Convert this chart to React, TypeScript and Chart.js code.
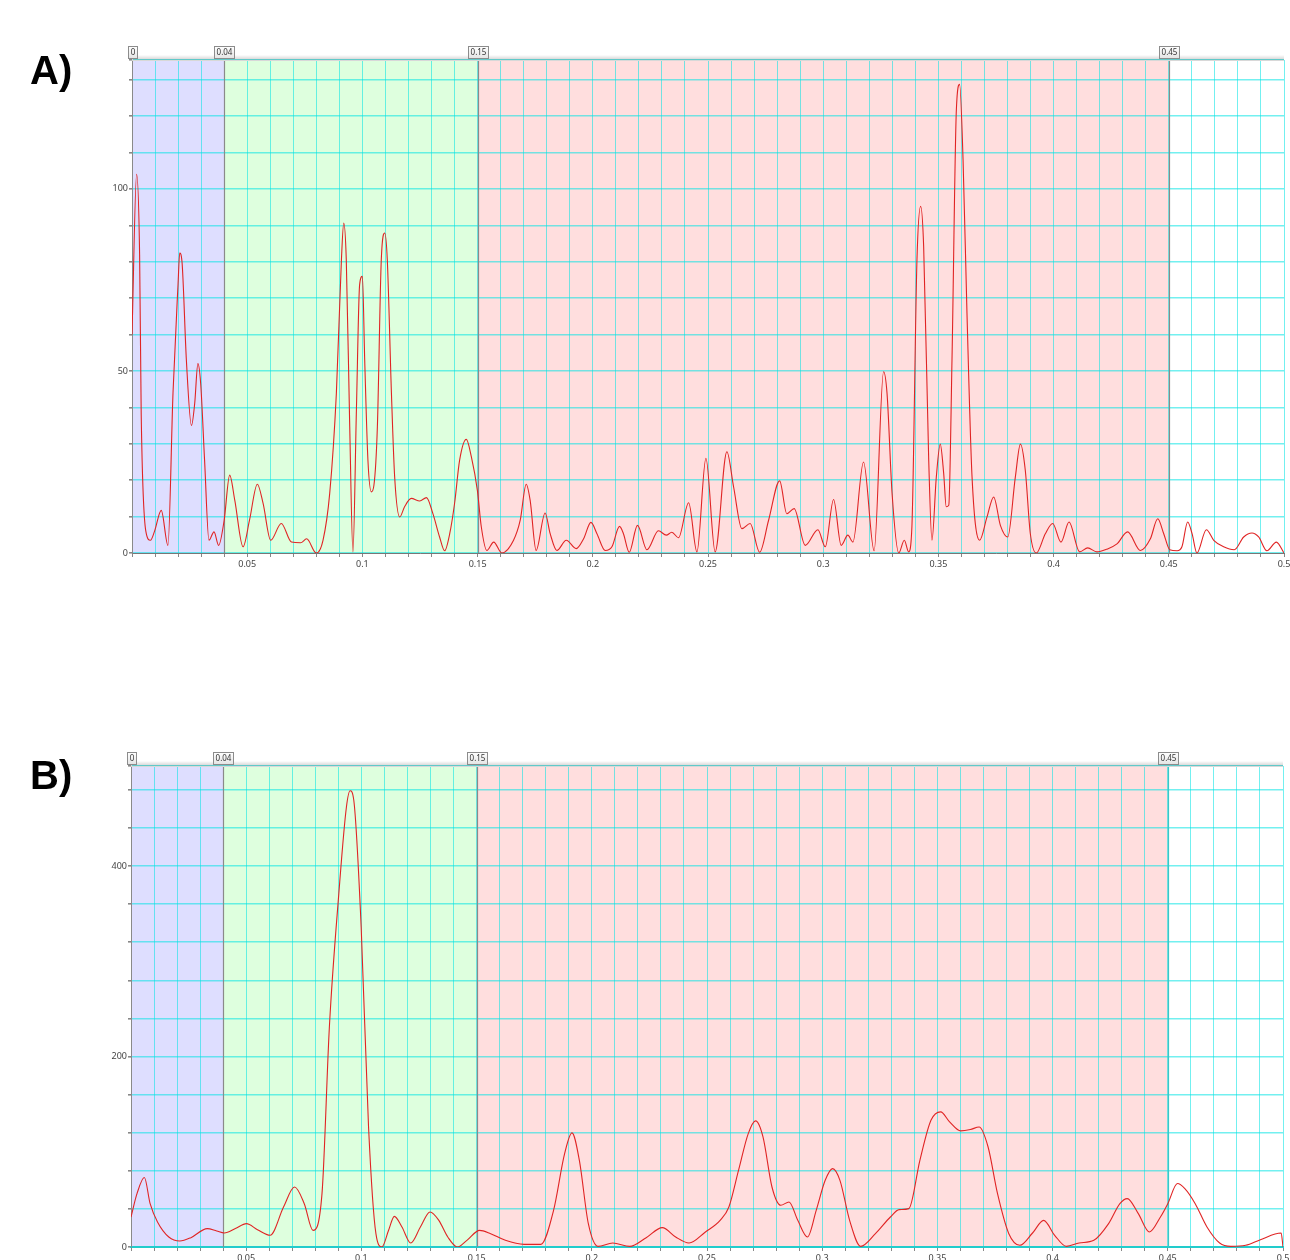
import React, { useEffect, useRef } from 'react';
import { Chart, registerables } from 'chart.js';

Chart.register(...registerables);

// ---------- Panel A data (frequency, power) ----------
const aFreq = [
  0.0, 0.002, 0.0033, 0.004, 0.006, 0.008, 0.0098, 0.0127, 0.0156, 0.0178,
  0.02, 0.0207, 0.0217, 0.0236, 0.0258, 0.0272, 0.0286, 0.0298, 0.0315, 0.0334,
  0.0356, 0.0376, 0.04, 0.0424, 0.0446, 0.0482, 0.051, 0.0544, 0.0569, 0.0602,
  0.0648, 0.0692, 0.0732, 0.0758, 0.08, 0.0829, 0.0858, 0.0887, 0.0909, 0.0919,
  0.093, 0.0945, 0.0959, 0.0974, 0.0988, 0.1, 0.101, 0.1024, 0.1039, 0.105,
  0.1065, 0.1082, 0.1097, 0.1108, 0.1126, 0.114, 0.1162, 0.1183, 0.1212, 0.1249,
  0.1278, 0.1306, 0.1335, 0.1357, 0.1379, 0.14, 0.1422, 0.1451, 0.1473, 0.1499,
  0.1516, 0.154, 0.157, 0.1605, 0.1656, 0.1685, 0.1711, 0.1728, 0.1754, 0.1793,
  0.1815, 0.1844, 0.1885, 0.1928, 0.196, 0.1992, 0.2018, 0.2054, 0.2083, 0.2116,
  0.2133, 0.2158, 0.2194, 0.2235, 0.2285, 0.2319, 0.2343, 0.2372, 0.2416, 0.2452,
  0.2491, 0.2531, 0.2582, 0.2611, 0.2647, 0.2683, 0.2724, 0.2763, 0.2811, 0.2842,
  0.2874, 0.2922, 0.2977, 0.3009, 0.3045, 0.3078, 0.3107, 0.3129, 0.3175, 0.3221,
  0.3262, 0.3277, 0.3299, 0.3328, 0.3352, 0.3371, 0.3385, 0.3407, 0.3423, 0.3436,
  0.3458, 0.3472, 0.3491, 0.3508, 0.3523, 0.3534, 0.3545, 0.3559, 0.3578, 0.3592,
  0.3607, 0.3624, 0.3646, 0.3679, 0.3711, 0.374, 0.3769, 0.3801, 0.3834, 0.3856,
  0.3877, 0.3899, 0.3925, 0.3964, 0.3996, 0.4032, 0.4067, 0.4113, 0.4148, 0.4188,
  0.4229, 0.4275, 0.4321, 0.4377, 0.442, 0.4452, 0.4478, 0.4504, 0.4536, 0.4557,
  0.4582, 0.4601, 0.4622, 0.4663, 0.4695, 0.4738, 0.4784, 0.4825, 0.4861, 0.489,
  0.4926, 0.4967, 0.5,
];
const aPower = [
  60, 104, 82, 38, 6, 3.5, 6, 11.7, 2.1, 44,
  74, 82.4, 80, 53, 35, 41, 52, 46.6, 25.5, 3.5,
  5.8, 2.1, 9, 21.4, 14.5, 1.7, 9, 18.9, 13.6, 3.5,
  8.1, 3, 2.8, 3.9, 0, 3.5, 16.3, 43.9, 80.6, 90.6,
  80.6, 34.7, 0.3, 39.3, 73.7, 76, 53, 25.5, 16.8, 18.6,
  34.7, 80.6, 87.9, 80.6, 43.9, 20.9, 9.9, 12.7, 15, 14.3,
  15.2, 10.8, 4.4, 0.6, 5.3, 13.6, 25.5, 31.2, 26.4, 17.2,
  7.2, 0.7, 3, 0, 3.5, 9, 18.9, 14.5, 0.7, 11,
  5.3, 0.7, 3.5, 1.2, 3.9, 8.4, 5.3, 0.7, 1.7, 7.3,
  5.3, 0.2, 7.6, 0.9, 6.1, 4.9, 5.7, 4.2, 13.8, 0.3,
  26, 0.3, 27.8, 18.2, 6.7, 8.1, 0.2, 9, 19.8, 10.8,
  12.2, 2.1, 6.4, 1.7, 14.7, 2.1, 4.9, 3, 25, 0.6,
  49.8, 43.9, 16.3, 0, 3.5, 0.3, 7.2, 80.6, 95.2, 84.2,
  25.5, 3.5, 20.9, 29.9, 21.8, 12.7, 13.1, 53, 121.8, 128.7,
  108, 65.9, 20.9, 3.5, 9.9, 15.4, 7.6, 4.4, 20.9, 29.9,
  22.8, 5.3, 0, 5.3, 8.1, 3, 8.5, 0.3, 1.4, 0.3,
  1, 2.5, 5.8, 0.7, 3.9, 9.4, 5.3, 0.9, 0.6, 1.7,
  8.5, 5.3, 0, 6.4, 3.5, 1.7, 0.9, 4.4, 5.5, 4.4,
  0.6, 3, 0,
];

// ---------- Panel B data (frequency, power) ----------
const bFreq = [
  0.0, 0.0026, 0.0058, 0.0083, 0.0115, 0.0164, 0.0212, 0.026, 0.0331, 0.0372,
  0.0405, 0.0453, 0.0501, 0.0549, 0.0604, 0.0662, 0.071, 0.0752, 0.079, 0.0829,
  0.0861, 0.0902, 0.0935, 0.0951, 0.0967, 0.0999, 0.1031, 0.1063, 0.1089, 0.1118,
  0.1143, 0.1176, 0.1214, 0.1256, 0.1298, 0.1336, 0.1375, 0.1417, 0.1458, 0.1513,
  0.1561, 0.1625, 0.1706, 0.1779, 0.1834, 0.1882, 0.1914, 0.1946, 0.1985, 0.2027,
  0.2091, 0.2165, 0.2236, 0.2306, 0.2364, 0.2422, 0.2493, 0.2557, 0.2595, 0.2637,
  0.2679, 0.2711, 0.2743, 0.2782, 0.282, 0.2856, 0.2894, 0.2936, 0.2974, 0.3013,
  0.3045, 0.3077, 0.3119, 0.3167, 0.3231, 0.3296, 0.3334, 0.3376, 0.3424, 0.3472,
  0.3514, 0.3553, 0.3601, 0.3643, 0.3681, 0.372, 0.3761, 0.381, 0.3858, 0.3913,
  0.3961, 0.4009, 0.406, 0.4115, 0.4179, 0.4243, 0.4292, 0.4324, 0.4372, 0.442,
  0.4468, 0.45, 0.4542, 0.4574, 0.4619, 0.467, 0.4725, 0.4773, 0.4838, 0.4902,
  0.4992, 0.5,
];
const bPower = [
  31.5, 56, 72.9, 45.5, 26.3, 10.5, 6.3, 9.8, 19.3, 16.8,
  14.7, 19.3, 24.5, 18.2, 12.3, 42, 63, 45.5, 17.5, 56,
  231, 371, 462, 479, 469, 336, 126, 14, 0, 17.5,
  32.2, 21, 4.2, 21, 36.8, 28, 10.5, 0, 7, 17.5,
  14, 7, 2.8, 2.8, 38.5, 98, 119.8, 91, 24.5, 0.7,
  4.2, 0.7, 9.8, 20.3, 10.5, 4.2, 15.8, 28, 42, 80.6,
  119, 132.4, 115.6, 63, 43.8, 47.3, 28, 10.5, 38.5, 70,
  82.3, 70, 28, 0.7, 14, 31.5, 39.2, 40.3, 91, 133,
  141.9, 131.4, 121.9, 123.3, 126, 105, 56, 14, 1.8, 14.7,
  28, 12.3, 0.7, 4.2, 7, 24.5, 45.5, 50.8, 35, 15.8,
  31.5, 45.5, 66.6, 61.3, 45.5, 21, 4.2, 0.7, 1.8, 7.7,
  14.7, 0,
];

// ---------- Bands ----------
const bandEdges = [0, 0.04, 0.15, 0.45];
const bandLabels = ['0', '0.04', '0.15', '0.45'];
const bandColors = ['#DEDEFF', '#DEFFDE', '#FFDEDE'];

const GRID = 'rgba(0,228,228,0.55)';
const FONT = "'Noto Sans', 'DejaVu Sans', sans-serif";

type PanelProps = {
  freq: number[];
  power: number[];
  yMax: number;
  yStep: number;
  yLabelStep: number;
  top: number;
  height: number;
  padTop: number;
  xAxisH: number;
  yAxisW: number;
  padRight: number;
  lastEdgeColor: string;
  xBorderColor: string;
  xBorderWidth: number;
};

function makeBandPlugin(lastEdgeColor: string) {
  return {
    id: 'bands',
    beforeDraw(chart: any) {
      const { ctx, chartArea } = chart;
      const { top, bottom, left, right } = chartArea;
      const x = chart.scales.x;
      ctx.save();
      ctx.fillStyle = '#ffffff';
      ctx.fillRect(left, top, right - left, bottom - top);
      for (let i = 0; i < bandColors.length; i++) {
        const x0 = x.getPixelForValue(bandEdges[i]);
        const x1 = x.getPixelForValue(bandEdges[i + 1]);
        ctx.fillStyle = bandColors[i];
        ctx.fillRect(x0, top, x1 - x0, bottom - top);
      }
      ctx.restore();
    },
    beforeDatasetsDraw(chart: any) {
      const { ctx, chartArea } = chart;
      const { top, bottom } = chartArea;
      const x = chart.scales.x;
      ctx.save();
      for (let i = 1; i < bandEdges.length; i++) {
        const px = Math.round(x.getPixelForValue(bandEdges[i])) + 0.5;
        ctx.strokeStyle = i === bandEdges.length - 1 ? lastEdgeColor : '#8a8a8a';
        ctx.lineWidth = 1.2;
        ctx.beginPath();
        ctx.moveTo(px, top);
        ctx.lineTo(px, bottom);
        ctx.stroke();
      }
      // left border
      const lx = Math.round(chartArea.left) + 0.5;
      ctx.strokeStyle = '#8a8a8a';
      ctx.lineWidth = 1;
      ctx.beginPath();
      ctx.moveTo(lx, top);
      ctx.lineTo(lx, bottom);
      ctx.stroke();
      ctx.restore();
    },
    afterDraw(chart: any) {
      const { ctx, chartArea } = chart;
      const { top, left, right } = chartArea;
      const x = chart.scales.x;
      ctx.save();
      // top shadow
      const g = ctx.createLinearGradient(0, top - 5, 0, top);
      g.addColorStop(0, 'rgba(0,0,0,0)');
      g.addColorStop(1, 'rgba(0,0,0,0.18)');
      ctx.fillStyle = g;
      ctx.fillRect(left, top - 5, right - left, 5);
      ctx.fillStyle = '#d8d8d8';
      ctx.fillRect(left, top, right - left, 1);
      // label boxes
      ctx.font = `8px ${FONT}`;
      ctx.textBaseline = 'middle';
      ctx.textAlign = 'center';
      for (let i = 0; i < bandEdges.length; i++) {
        const px = x.getPixelForValue(bandEdges[i]);
        const tw = ctx.measureText(bandLabels[i]).width;
        const w = Math.ceil(tw) + 4;
        const h = 12;
        const bx = Math.round(px - w / 2) + 0.5;
        const by = Math.round(top - h - 2) + 0.5;
        const gg = ctx.createLinearGradient(0, by, 0, by + h);
        gg.addColorStop(0, '#ffffff');
        gg.addColorStop(1, '#e4e4e4');
        ctx.fillStyle = gg;
        ctx.fillRect(bx, by, w, h);
        ctx.strokeStyle = '#8c8c8c';
        ctx.lineWidth = 1;
        ctx.strokeRect(bx, by, w, h);
        ctx.fillStyle = '#333333';
        ctx.fillText(bandLabels[i], bx + w / 2, by + h / 2 + 0.5);
      }
      ctx.restore();
    },
  };
}

function Panel(p: PanelProps) {
  const ref = useRef<HTMLCanvasElement | null>(null);
  useEffect(() => {
    if (!ref.current) return;
    const data = p.freq.map((f, i) => ({ x: f, y: p.power[i] }));
    const chart = new Chart(ref.current, {
      type: 'line',
      data: {
        datasets: [
          {
            data,
            borderColor: '#e02424',
            borderWidth: 1.1,
            pointRadius: 0,
            fill: false,
            cubicInterpolationMode: 'monotone',
          },
        ],
      },
      options: {
        responsive: true,
        maintainAspectRatio: false,
        animation: false,
        parsing: true,
        layout: { padding: { top: p.padTop, right: p.padRight, left: 0, bottom: 0 } },
        plugins: { legend: { display: false }, tooltip: { enabled: false } },
        scales: {
          x: {
            type: 'linear',
            min: 0,
            max: 0.5,
            afterFit: (s: any) => {
              s.height = p.xAxisH;
              s.paddingLeft = 0;
              s.paddingRight = 0;
            },
            ticks: {
              stepSize: 0.01,
              autoSkip: false,
              maxRotation: 0,
              padding: 2,
              color: '#444',
              font: { size: 9, family: FONT },
              callback: (v: any) => {
                const n = Math.round(Number(v) * 100);
                if (n === 0 || n % 5 !== 0) return '';
                return String(n / 100);
              },
            },
            grid: {
              color: GRID,
              lineWidth: 1,
              tickColor: '#888',
              tickLength: 4,
            },
            border: { color: p.xBorderColor, width: p.xBorderWidth },
          },
          y: {
            type: 'linear',
            min: 0,
            max: p.yMax,
            afterFit: (s: any) => {
              s.width = p.yAxisW;
              s.paddingTop = 0;
              s.paddingBottom = 0;
            },
            ticks: {
              stepSize: p.yStep,
              autoSkip: false,
              padding: 1,
              color: '#444',
              font: { size: 9, family: FONT },
              callback: (v: any) => {
                const n = Math.round(Number(v));
                if (Math.abs(Number(v) - n) > 1e-6) return '';
                if (n % p.yLabelStep !== 0) return '';
                return String(n);
              },
            },
            grid: {
              color: GRID,
              lineWidth: 1.6,
              tickColor: '#888',
              tickLength: 3,
            },
            border: { color: '#8a8a8a', width: 1 },
          },
        },
      },
      plugins: [makeBandPlugin(p.lastEdgeColor)],
    } as any);
    return () => chart.destroy();
  }, []);
  return (
    <div
      style={{
        position: 'absolute',
        left: 0,
        top: p.top,
        width: 1290,
        height: p.height,
      }}
    >
      <canvas ref={ref} />
    </div>
  );
}

const labelStyle: React.CSSProperties = {
  position: 'absolute',
  left: 30,
  fontFamily: "'Liberation Sans', Arial, sans-serif",
  fontWeight: 'bold',
  fontSize: 40,
  lineHeight: '40px',
  color: '#000',
};

export default function App() {
  return (
    <div
      style={{
        position: 'absolute',
        left: 0,
        top: 0,
        width: 1290,
        height: 1260,
        overflow: 'hidden',
        background: '#fff',
      }}
    >
      <Panel
        freq={aFreq}
        power={aPower}
        yMax={135.4}
        yStep={10}
        yLabelStep={50}
        top={0}
        height={600}
        padTop={60}
        xAxisH={47}
        yAxisW={132}
        padRight={6}
        lastEdgeColor="#8a8a8a"
        xBorderColor="#777"
        xBorderWidth={1}
      />
      <Panel
        freq={bFreq}
        power={bPower}
        yMax={505}
        yStep={40}
        yLabelStep={200}
        top={700}
        height={560}
        padTop={66}
        xAxisH={13}
        yAxisW={131}
        padRight={7}
        lastEdgeColor="#3cc6c6"
        xBorderColor="#22cccc"
        xBorderWidth={2}
      />
      <div style={{ ...labelStyle, top: 50 }}>A)</div>
      <div style={{ ...labelStyle, top: 755 }}>B)</div>
    </div>
  );
}
